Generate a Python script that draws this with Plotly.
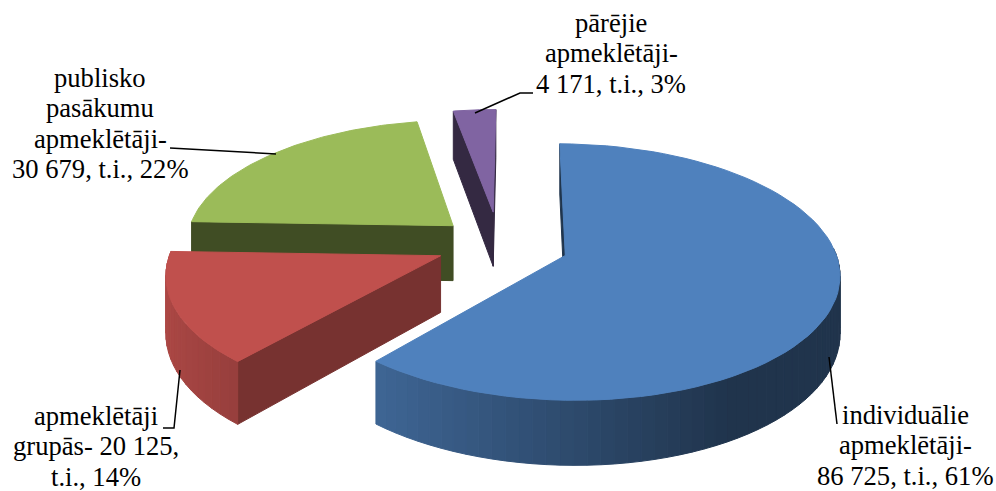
import numpy as np
import plotly.graph_objects as go

categories = ["individuālie apmeklētāji", "apmeklētāji grupās", "publisko pasākumu apmeklētāji", "pārējie apmeklētāji"]
visitors = [86725, 20125, 30679, 4171]
percents = [61, 14, 22, 3]
pulls = [70, 63, 62, 72]

top_colors = ["#4F81BD", "#C0504D", "#9BBB59", "#8064A2"]
label_lines = [
    ["individuālie", "apmeklētāji-", "86 725, t.i., 61%"],
    ["apmeklētāji", "grupās- 20 125,", "t.i., 14%"],
    ["publisko", "pasākumu", "apmeklētāji-", "30 679, t.i., 22%"],
    ["pārējie", "apmeklētāji-", "4 171, t.i., 3%"],
]

# where each label block sits: centre x, first line y
label_pos = [(905, 415), (96, 416), (100, 78), (611, 23)]
line_step = 30.4
font_family = "'Liberation Serif', 'Times New Roman', serif"
font_size = 26.6

# perspective of the pie, in pixels
xc, yh, cam_h, cam_d = 499, -721, 965, 2100
radius, depth = 268, 56
first_angle = np.radians(0.5)


def project(x, v, z=0):
    s = cam_d / (cam_d + v)
    return xc + x * s, yh + (cam_h + z) * s


def shade(hex_color, k):
    rgb = [int(hex_color[i:i + 2], 16) for i in (1, 3, 5)]
    return "rgb({},{},{})".format(*[round(c * k) for c in rgb])


def wall_shade(theta):
    return max(0.40, 0.57 - 0.33 * np.sin(theta))


def polygon(points, color):
    xs, ys = zip(*points)
    return go.Scatter(x=list(xs) + [xs[0]], y=list(ys) + [ys[0]], mode="lines", fill="toself",
                      fillcolor=color, line=dict(color=color, width=1), hoverinfo="skip", showlegend=False)


fig = go.Figure()

total = sum(visitors)
bounds = first_angle + np.concatenate([[0], np.cumsum(visitors)]) / total * 2 * np.pi
slices = list(range(len(visitors)))

# back slices first so the front ones paint over them
for i in sorted(slices, key=lambda n: -np.cos((bounds[n] + bounds[n + 1]) / 2)):
    a, b = bounds[i], bounds[i + 1]
    mid = (a + b) / 2
    px, pv = pulls[i] * np.sin(mid), pulls[i] * np.cos(mid)
    color = top_colors[i]
    dark = shade(color, 0.62 if i == 1 else 0.41)

    # flat cut faces
    for theta, sign in ((a, -1), (b, 1)):
        nx, nv = sign * np.cos(theta), -sign * np.sin(theta)
        if nx * -px + nv * (-cam_d - pv) > 0:
            rx, rv = px + radius * np.sin(theta), pv + radius * np.cos(theta)
            fig.add_trace(polygon([project(px, pv), project(rx, rv), project(rx, rv, depth), project(px, pv, depth)], dark))

    # outer wall, split up for the gradient
    thetas = np.linspace(a, b, max(3, int((b - a) / np.radians(2.5))))
    for t0, t1 in zip(thetas[:-1], thetas[1:]):
        tm = (t0 + t1) / 2
        if np.cos(tm) > 0.05:
            continue
        x0, v0 = px + radius * np.sin(t0), pv + radius * np.cos(t0)
        x1, v1 = px + radius * np.sin(t1), pv + radius * np.cos(t1)
        fig.add_trace(polygon([project(x0, v0), project(x1, v1), project(x1, v1, depth), project(x0, v0, depth)],
                              shade(color, wall_shade(tm))))

    # top surface
    thetas = np.linspace(a, b, 80)
    rim = [project(px + radius * np.sin(t), pv + radius * np.cos(t)) for t in thetas]
    fig.add_trace(polygon([project(px, pv)] + rim, color))

# leader lines
leaders = [
    "M 829 357 L 837 424",
    "M 180 370 L 174 428 L 163 428",
    "M 170 148 L 276 154",
    "M 475 113 L 520 93 L 533 93",
]
for path in leaders:
    fig.add_shape(type="path", path=path, line=dict(color="black", width=1.5), xref="x", yref="y")

for lines, (cx, y0) in zip(label_lines, label_pos):
    for n, text in enumerate(lines):
        fig.add_annotation(x=cx, y=y0 + n * line_step, text=text, showarrow=False, xanchor="center", yanchor="middle",
                           font=dict(family=font_family, size=font_size, color="black"))

fig.update_layout(
    width=996, height=491,
    margin=dict(l=0, r=0, t=0, b=0),
    paper_bgcolor="white", plot_bgcolor="white",
    showlegend=False,
    xaxis=dict(range=[0, 996], visible=False, fixedrange=True),
    yaxis=dict(range=[491, 0], visible=False, fixedrange=True),
)

fig.write_html("out.html", config=dict(displayModeBar=False), post_script="document.body.style.margin='0';")
